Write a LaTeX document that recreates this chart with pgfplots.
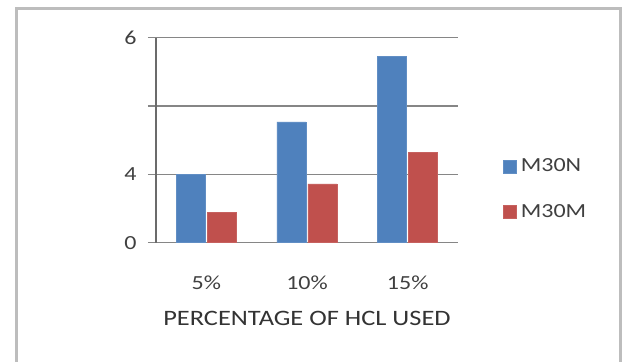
\documentclass[border=0pt]{standalone}
\usepackage{pgfplots}
\pgfplotsset{compat=1.18}
\usepackage{fontspec}
\setmainfont{Carlito}[FakeStretch=1.2]
\definecolor{barblue}{HTML}{4F81BD}
\definecolor{barred}{HTML}{C0504D}
\definecolor{gridgray}{HTML}{868686}
\definecolor{framegray}{HTML}{BDBDBD}
\begin{document}
\begin{tikzpicture}[x=1pt,y=1pt]
\draw[framegray, line width=3pt] (16pt,-5pt) -- (16pt,353.5pt) -- (620pt,353.5pt) -- (620pt,-5pt);
\begin{axis}[
  at={(156pt,119.3pt)}, anchor=south west,
  scale only axis, width=302pt, height=205pt,
  xmin=-0.5, xmax=2.5, ymin=0, ymax=3,
  axis x line*=bottom, axis y line*=left,
  x axis line style={gridgray, line width=1.3pt, -},
  y axis line style={gridgray!80!black, line width=1.2pt, -},
  xtick={0,1,2}, xticklabels={5\%,10\%,15\%},
  xtick style={draw=none},
  ytick={0,1,2,3}, yticklabels={0,4,{},6},
  ytick style={gridgray, line width=1.2pt}, ytick align=outside,
  major tick length=8pt,
  ymajorgrids, grid style={gridgray, line width=1.3pt},
  tick label style={font=\fontsize{20}{20}\selectfont, text=black!75},
  yticklabel style={xshift=-8pt},
  xticklabel style={yshift=-22pt},
  xlabel={PERCENTAGE OF HCL USED},
  xlabel style={font=\fontsize{22}{22}\selectfont, text=black!80, yshift=-14pt},
  ybar, bar width=29pt,
  enlarge x limits=false,
  clip=false,
  legend style={at={(1.14,0.262)}, anchor=west, draw=none, fill=none,
    font=\fontsize{20}{20}\selectfont, text=black!75, row sep=27pt,
    legend cell align=left, nodes={inner xsep=4pt}},
  legend image code/.code={\fill[#1] (0pt,-6.5pt) rectangle (13pt,6.5pt);},
]
\addplot[fill=barblue, draw=barblue!90!white] coordinates {(0,1.00) (1,1.77) (2,2.73)};
\addplot[fill=barred, draw=barred!90!white] coordinates {(0,0.445) (1,0.86) (2,1.32)};
\legend{M30N,M30M}
\end{axis}
\pgfresetboundingbox
\useasboundingbox (0pt,0pt) rectangle (625pt,362pt);
\end{tikzpicture}
\end{document}
